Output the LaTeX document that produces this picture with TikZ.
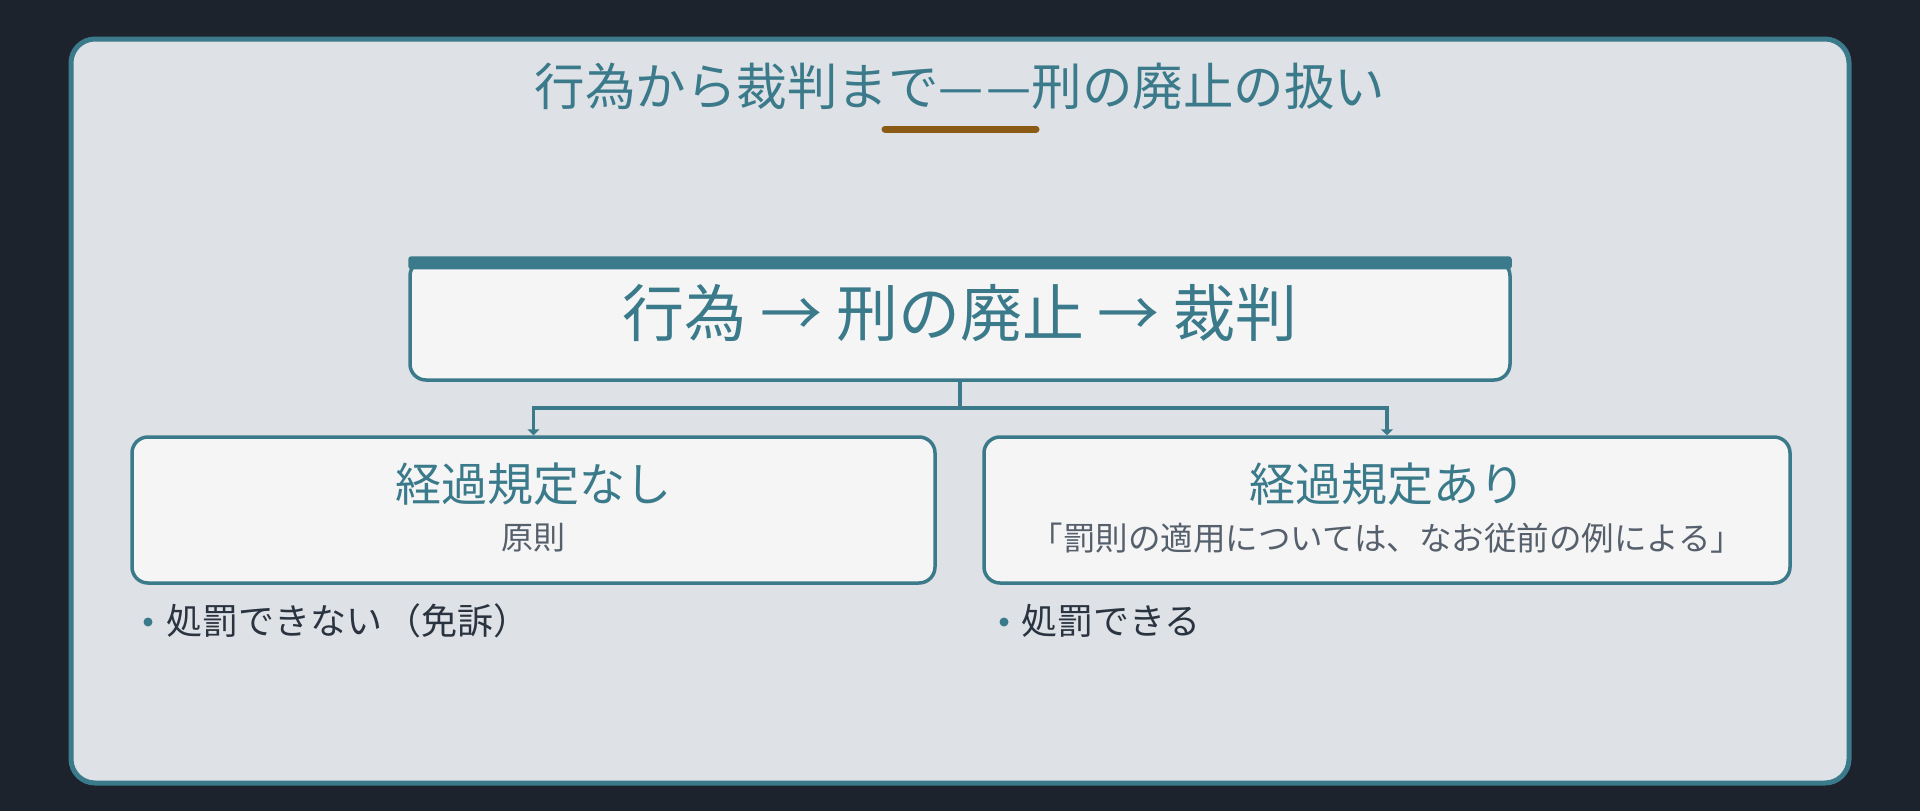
\documentclass[tikz,border=0pt]{standalone}
\usepackage{fontspec}
\setmainfont{Noto Sans CJK JP}
\usetikzlibrary{arrows.meta}
\definecolor{bgdark}{HTML}{1D232D}
\definecolor{panel}{HTML}{DEE1E5}
\definecolor{teal}{HTML}{3A7A8A}
\definecolor{boxfill}{HTML}{F5F5F5}
\definecolor{gold}{HTML}{8B5A14}
\definecolor{darktext}{HTML}{2A3340}
\definecolor{graytext}{HTML}{56606C}
\tikzset{
  frame/.style={draw=teal, fill=panel, line width=5pt, rounded corners=24pt},
  topbox/.style={draw=teal, fill=boxfill, line width=3.5pt, rounded corners=16pt, minimum width=1100pt, minimum height=120pt, inner sep=0pt},
  childbox/.style={draw=teal, fill=boxfill, line width=3.5pt, rounded corners=16pt, minimum height=146pt, inner sep=0pt},
  conn/.style={draw=teal, line width=3.5pt},
  arr/.style={conn, -{Triangle[width=12pt,length=6pt]}},
  txt/.style={inner sep=0pt, outer sep=0pt},
  bullet/.style={circle, fill=teal, inner sep=0pt, minimum size=9pt},
}
\begin{document}
\begin{tikzpicture}[x=1pt,y=-1pt]
\fill[bgdark] (0,0) rectangle (1920,811);
\useasboundingbox (0,0) rectangle (1920,811);
\draw[frame] (71,39) rectangle (1849,783);
\node[txt, text=teal, font=\fontsize{50.5}{60}\selectfont] (title) at (960,86) {行為から裁判まで—\hspace{3pt}—刑の廃止の扱い};
\draw[gold, line width=7pt, line cap=round] (885,129) -- (1036,129);

\node[topbox] (top) at (960,320) {};
\fill[teal, rounded corners=3pt] ([yshift=2pt]top.north west) rectangle ([yshift=-11pt]top.north east);
\node[txt, text=teal, font=\fontsize{62}{72}\selectfont] (toptext) at (960,313) {行為 → 刑の廃止 → 裁判};

\node[childbox, minimum width=803pt] (L) at (533.5,510) {};
\node[childbox, minimum width=806pt] (R) at (1387,510) {};

\coordinate (j) at (960,408);
\draw[conn] (top.south) -- (j);
\draw[arr] (j) -| (L.north);
\draw[arr] (j) -| (R.north);

\node[txt, text=teal, font=\fontsize{46}{56}\selectfont] (Lt) at (533.5,484) {経過規定なし};
\node[txt, text=graytext, font=\fontsize{32}{38}\selectfont] (Ls) at (533.5,538) {原則};
\node[txt, text=teal, font=\fontsize{46}{56}\selectfont] (Rt) at (1387,484) {経過規定あり};
\node[txt, text=graytext, font=\fontsize{32.5}{38}\selectfont] (Rs) at (1387,538) {「罰則の適用については、なお従前の例による」};

\node[bullet] (b1) at (148,622) {};
\node[txt, anchor=west, text=darktext, font=\fontsize{36}{42}\selectfont] (b1t) at (166,621) {処罰できない\hspace{4pt}（免訴）};
\node[bullet] (b2) at (1004,622) {};
\node[txt, anchor=west, text=darktext, font=\fontsize{36}{42}\selectfont] (b2t) at (1021,621) {処罰できる};
\end{tikzpicture}
\end{document}
